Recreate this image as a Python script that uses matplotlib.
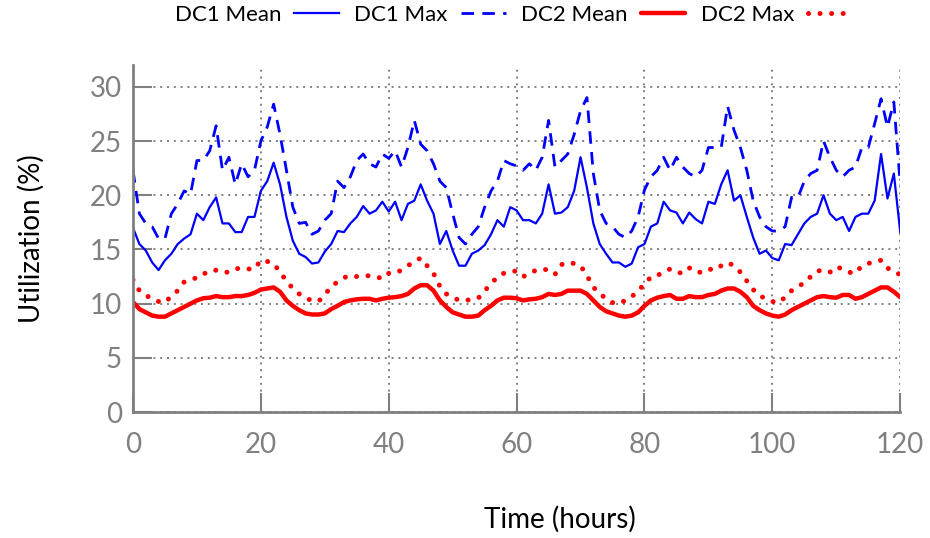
import matplotlib
matplotlib.use("Agg")
import matplotlib.pyplot as plt
import numpy as np

hours = list(range(0, 121))

dc1_mean = [17.0, 15.5, 14.9, 13.8, 13.1, 14.0, 14.6, 15.5, 16.0, 16.4,
            18.3, 17.7, 18.9, 19.8, 17.4, 17.4, 16.6, 16.6, 18.0, 18.0,
            20.4, 21.3, 23.0, 21.0, 18.0, 15.8, 14.6, 14.3, 13.7, 13.8,
            14.8, 15.5, 16.7, 16.6, 17.4, 18.0, 19.0, 18.3, 18.6, 19.4,
            18.5, 19.4, 17.7, 19.2, 19.5, 21.0, 19.5, 18.3, 15.5, 16.7,
            14.9, 13.5, 13.5, 14.6, 14.9, 15.4, 16.4, 17.7, 17.1, 18.9,
            18.6, 17.7, 17.7, 17.4, 18.3, 21.0, 18.3, 18.4, 18.9, 20.4,
            23.5, 20.7, 17.4, 15.5, 14.6, 13.8, 13.8, 13.4, 13.7, 15.2,
            15.5, 17.1, 17.4, 19.4, 18.6, 18.4, 17.4, 18.4, 17.8, 17.4,
            19.4, 19.2, 21.0, 22.3, 19.5, 20.0, 18.0, 16.1, 14.6, 14.9,
            14.2, 14.0, 15.5, 15.4, 16.4, 17.4, 18.0, 18.3, 20.0, 18.3,
            17.7, 18.0, 16.7, 18.0, 18.3, 18.3, 19.5, 23.8, 19.7, 22.0,
            16.6]

dc1_max = [22.3, 18.3, 17.4, 17.1, 16.0, 16.0, 18.3, 19.2, 20.4, 20.1,
           23.2, 23.2, 24.1, 26.4, 22.3, 23.5, 21.0, 22.9, 21.7, 22.3,
           25.0, 26.3, 28.4, 25.6, 22.3, 18.9, 17.4, 17.5, 16.4, 16.7,
           17.7, 18.3, 21.3, 20.7, 21.7, 23.2, 23.8, 22.9, 22.6, 23.8,
           23.4, 24.1, 22.6, 24.4, 26.9, 24.7, 24.1, 22.9, 21.3, 20.7,
           18.3, 16.1, 15.5, 16.4, 17.1, 18.9, 20.4, 21.3, 23.2, 22.9,
           22.7, 22.3, 22.9, 22.3, 23.5, 26.9, 22.6, 23.2, 23.8, 25.6,
           27.8, 29.0, 22.0, 18.6, 17.4, 17.1, 16.4, 16.1, 16.7, 18.0,
           20.5, 21.7, 22.3, 23.5, 22.3, 23.5, 22.6, 22.0, 21.7, 22.3,
           24.4, 24.4, 24.4, 28.2, 26.0, 24.4, 22.3, 19.5, 18.0, 17.1,
           16.7, 16.7, 17.1, 19.8, 19.8, 21.3, 22.0, 22.3, 25.0, 23.5,
           22.3, 21.7, 22.3, 22.6, 24.4, 24.4, 26.6, 28.9, 26.3, 28.6,
           21.0]

dc2_mean = [10.15, 9.5, 9.2, 8.9, 8.8, 8.8, 9.1, 9.4, 9.7, 10.0,
            10.3, 10.5, 10.55, 10.7, 10.6, 10.6, 10.7, 10.7, 10.8, 11.0,
            11.3, 11.4, 11.5, 11.1, 10.3, 9.8, 9.4, 9.1, 9.0, 9.0,
            9.1, 9.5, 9.8, 10.15, 10.3, 10.4, 10.45, 10.45, 10.3, 10.45,
            10.55, 10.6, 10.7, 10.9, 11.4, 11.7, 11.7, 11.2, 10.3, 9.7,
            9.2, 9.0, 8.8, 8.8, 8.9, 9.4, 9.8, 10.3, 10.55, 10.55,
            10.5, 10.3, 10.4, 10.45, 10.6, 10.9, 10.8, 10.9, 11.2, 11.2,
            11.2, 10.9, 10.3, 9.7, 9.3, 9.1, 8.9, 8.8, 8.9, 9.2,
            9.8, 10.3, 10.55, 10.7, 10.8, 10.45, 10.45, 10.7, 10.6, 10.6,
            10.8, 10.9, 11.2, 11.4, 11.4, 11.1, 10.6, 9.8, 9.4, 9.1,
            8.9, 8.8, 9.0, 9.4, 9.7, 10.0, 10.3, 10.6, 10.7, 10.6,
            10.55, 10.8, 10.8, 10.45, 10.6, 10.9, 11.2, 11.5, 11.5, 11.1,
            10.6]

dc2_max = [12.2, 11.2, 10.8, 10.4, 10.2, 10.1, 10.7, 11.2, 12.0, 12.2,
           12.4, 12.8, 12.8, 13.1, 12.9, 12.9, 13.2, 13.3, 13.2, 13.2,
           14.0, 13.9, 13.7, 12.9, 12.1, 11.4, 10.9, 10.5, 10.3, 10.2,
           10.8, 11.6, 12.0, 12.4, 12.6, 12.5, 12.5, 12.6, 12.5, 12.3,
           12.8, 12.8, 13.1, 13.5, 13.9, 14.2, 13.5, 12.8, 11.6, 10.9,
           10.6, 10.3, 10.3, 10.4, 10.5, 11.2, 11.8, 12.5, 12.8, 13.0,
           13.0, 12.5, 12.7, 13.1, 13.2, 13.1, 12.7, 13.6, 13.8, 13.7,
           13.5, 12.6, 11.5, 11.0, 10.4, 10.1, 10.0, 10.3, 10.6, 11.3,
           11.7, 12.5, 12.6, 12.9, 13.2, 12.9, 12.8, 13.3, 12.9, 12.9,
           13.2, 13.1, 13.5, 13.8, 13.5, 12.9, 12.1, 11.3, 10.7, 10.5,
           10.2, 10.1, 10.6, 11.2, 11.6, 11.9, 12.5, 13.0, 13.1, 12.9,
           13.4, 13.2, 12.9, 12.8, 13.5, 13.7, 13.9, 14.0, 13.3, 12.9,
           12.7]

x_ticks = [0, 20, 40, 60, 80, 100, 120]
y_ticks = [0, 5, 10, 15, 20, 25, 30]
labels = ["DC1 Mean", "DC1 Max", "DC2 Mean", "DC2 Max"]

plt.rcParams['font.family'] = ['Lato', 'DejaVu Sans']

fig = plt.figure(figsize=(9.3, 5.38), dpi=100)
ax = fig.add_axes([0.143, 0.234, 0.825, 0.645])

GREY = '#808080'
ax.plot(hours, dc1_mean, color='#0000ff', lw=1.6, label=labels[0])
ax.plot(hours, dc1_max, color='#0000ff', lw=2.0, linestyle=(0, (4.5, 3)), label=labels[1])
ax.plot(hours, dc2_mean, color='#ff0000', lw=3.2, solid_capstyle='round', label=labels[2])
ax.plot(hours, dc2_max, color='#ff0000', lw=3.6, linestyle=(0, (0.01, 2.3)),
        dash_capstyle='round', label=labels[3])

ax.set_xlim(0, 120)
ax.set_ylim(0, 32)
ax.set_xticks(x_ticks)
ax.set_yticks(y_ticks)
ax.grid(True, color=GREY, linestyle=(0, (1, 2.5)), lw=1.4)
ax.set_axisbelow(True)

for s in ['top', 'right']:
    ax.spines[s].set_visible(False)
for s in ['left', 'bottom']:
    ax.spines[s].set_color(GREY)
    ax.spines[s].set_linewidth(2)

ax.tick_params(axis='both', direction='in', color=GREY, width=1.5, labelcolor=GREY,
               labelsize=20)
ax.tick_params(axis='y', length=14, pad=8)
ax.tick_params(axis='x', length=14, pad=14)

ax.set_xlabel("Time (hours)", fontsize=20)
ax.xaxis.set_label_coords(0.557, -0.27)
ax.set_ylabel("Utilization (%)", fontsize=20, labelpad=32)

fig.legend(loc='center', bbox_to_anchor=(0.552, 0.972), ncol=4, frameon=False,
           markerfirst=False, fontsize=16, handlelength=2.0, handletextpad=0.6,
           columnspacing=0.7)

fig.savefig("out.png", dpi=100)
